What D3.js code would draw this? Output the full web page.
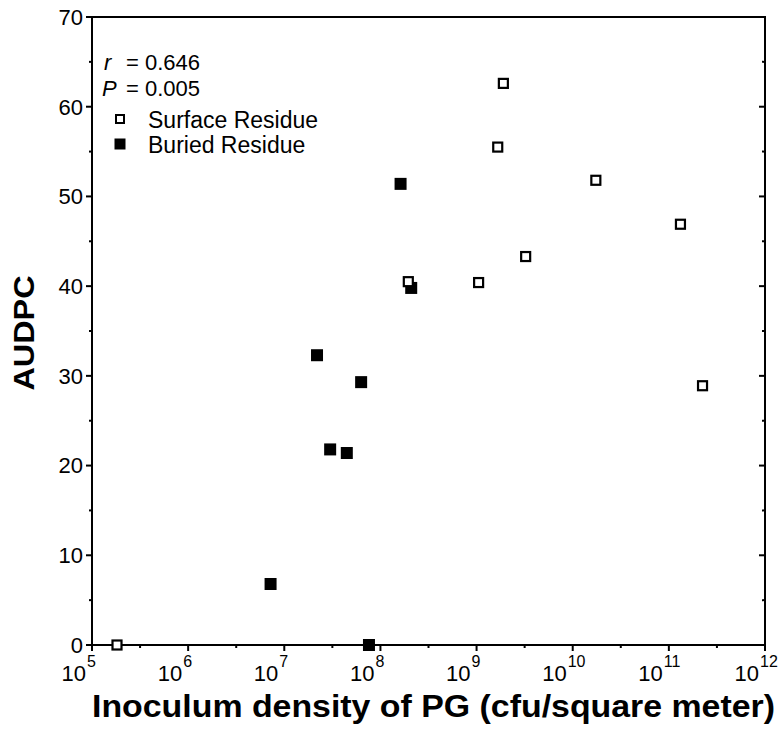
<!DOCTYPE html>
<html>
<head>
<meta charset="utf-8">
<script src="https://cdn.jsdelivr.net/npm/d3@7"></script>
<style>
  body { margin: 0; background: #fff; }
  text { font-family: "Liberation Sans", Arial, Helvetica, sans-serif; fill: #000; }
</style>
</head>
<body>
<svg id="chart" width="780" height="734"></svg>
<script>
// inoculum density (cfu/m2) and AUDPC
const surfaceX = [1.82e5, 1.95e8, 1.05e9, 1.9e9, 1.66e9, 3.24e9, 1.74e10, 1.32e11, 2.24e11];
const surfaceY = [0, 40.5, 40.4, 62.6, 55.5, 43.3, 51.8, 46.9, 28.9];
const buriedX = [7.2e6, 2.19e7, 3.0e7, 4.47e7, 6.3e7, 7.6e7, 1.62e8, 2.09e8];
const buriedY = [6.8, 32.3, 21.8, 21.4, 29.3, 0, 51.4, 39.8];

const xExponents = [5, 6, 7, 8, 9, 10, 11, 12];
const yTicks = [0, 10, 20, 30, 40, 50, 60, 70];
const legendItems = ["Surface Residue", "Buried Residue"];

const margin = { left: 92, right: 15, top: 17, bottom: 89 };
const svg = d3.select("#chart");
const W = +svg.attr("width"), H = +svg.attr("height");

const x = d3.scaleLog().domain([1e5, 1e12]).range([margin.left, W - margin.right]);
const y = d3.scaleLinear().domain([0, 70]).range([H - margin.bottom, margin.top]);

const x0 = x.range()[0], x1 = x.range()[1];
const y0 = y.range()[0], y1 = y.range()[1];

// frame
svg.append("rect")
    .attr("x", x0).attr("y", y1)
    .attr("width", x1 - x0).attr("height", y0 - y1)
    .attr("fill", "none").attr("stroke", "#000").attr("stroke-width", 2);

// y ticks: majors every 10, minors every 5 (outward on left, inward on right)
const yMinor = d3.range(5, 70, 10);
const g = svg.append("g").attr("stroke", "#000").attr("stroke-width", 2);
yTicks.forEach(v => {
    g.append("line").attr("x1", x0 - 6).attr("x2", x0).attr("y1", y(v)).attr("y2", y(v));
    g.append("line").attr("x1", x1 - 6).attr("x2", x1).attr("y1", y(v)).attr("y2", y(v));
});
yMinor.forEach(v => {
    g.append("line").attr("x1", x0 - 3).attr("x2", x0).attr("y1", y(v)).attr("y2", y(v));
    g.append("line").attr("x1", x1 - 3).attr("x2", x1).attr("y1", y(v)).attr("y2", y(v));
});

// x ticks: decades plus half-decades, pointing down
xExponents.forEach(e => {
    const px = x(Math.pow(10, e));
    g.append("line").attr("x1", px).attr("x2", px).attr("y1", y0).attr("y2", y0 + 6);
    if (e < 12) {
        const hx = x(Math.pow(10, e + 0.5));
        g.append("line").attr("x1", hx).attr("x2", hx).attr("y1", y0).attr("y2", y0 + 3);
    }
});

// y tick labels
svg.append("g").selectAll("text")
    .data(yTicks)
    .join("text")
    .attr("x", x0 - 9)
    .attr("y", d => y(d))
    .attr("dy", "0.36em")
    .attr("text-anchor", "end")
    .attr("font-size", 22)
    .text(d => d);

// x tick labels: 10 with superscript exponent, "10" ends just left of the tick
const xl = svg.append("g").selectAll("text")
    .data(xExponents)
    .join("text")
    .attr("x", d => x(Math.pow(10, d)) - 30.5)
    .attr("y", y0 + 36)
    .attr("font-size", 22);
xl.append("tspan").text("10");
xl.append("tspan")
    .attr("dx", 1).attr("dy", -14)
    .attr("font-size", 16)
    .text(d => d);

// axis titles
svg.append("text")
    .attr("x", (x0 + 775) / 2).attr("y", 717)
    .attr("text-anchor", "middle")
    .attr("font-size", 32).attr("font-weight", "bold")
    .attr("textLength", 683).attr("lengthAdjust", "spacingAndGlyphs")
    .text("Inoculum density of PG (cfu/square meter)");

svg.append("text")
    .attr("transform", "translate(34,333) rotate(-90)")
    .attr("text-anchor", "middle")
    .attr("font-size", 30).attr("font-weight", "bold")
    .attr("textLength", 115).attr("lengthAdjust", "spacingAndGlyphs")
    .text("AUDPC");

// points: buried (filled) under surface (open)
const buried = buriedX.map((v, i) => [v, buriedY[i]]);
const surface = surfaceX.map((v, i) => [v, surfaceY[i]]);

svg.append("g").selectAll("rect")
    .data(buried)
    .join("rect")
    .attr("x", d => x(d[0]) - 6).attr("y", d => y(d[1]) - 6)
    .attr("width", 12).attr("height", 12)
    .attr("fill", "#000");

svg.append("g").selectAll("rect")
    .data(surface)
    .join("rect")
    .attr("x", d => x(d[0]) - 4.5).attr("y", d => y(d[1]) - 4.5)
    .attr("width", 9).attr("height", 9)
    .attr("fill", "#fff").attr("stroke", "#000").attr("stroke-width", 2.2);

// statistics + legend
const stats = svg.append("g").attr("font-size", 22);
const r = stats.append("text").attr("x", 104).attr("y", 70);
r.append("tspan").attr("font-style", "italic").text("r");
r.append("tspan").attr("x", 126).text("= 0.646");
const p = stats.append("text").attr("x", 102).attr("y", 96);
p.append("tspan").attr("font-style", "italic").text("P");
p.append("tspan").attr("x", 126).text("= 0.005");

const leg = svg.append("g").selectAll("g")
    .data(legendItems)
    .join("g")
    .attr("transform", (d, i) => `translate(120,${119 + i * 25})`);
leg.append("rect")
    .attr("x", d => d === legendItems[0] ? -4 : -5.5)
    .attr("y", d => d === legendItems[0] ? -4 : -5.5)
    .attr("width", d => d === legendItems[0] ? 8 : 11)
    .attr("height", d => d === legendItems[0] ? 8 : 11)
    .attr("fill", d => d === legendItems[0] ? "#fff" : "#000")
    .attr("stroke", d => d === legendItems[0] ? "#000" : "none")
    .attr("stroke-width", 2);
leg.append("text")
    .attr("x", 28).attr("y", 0).attr("dy", "0.4em")
    .attr("font-size", 23)
    .text(d => d);
</script>
</body>
</html>
